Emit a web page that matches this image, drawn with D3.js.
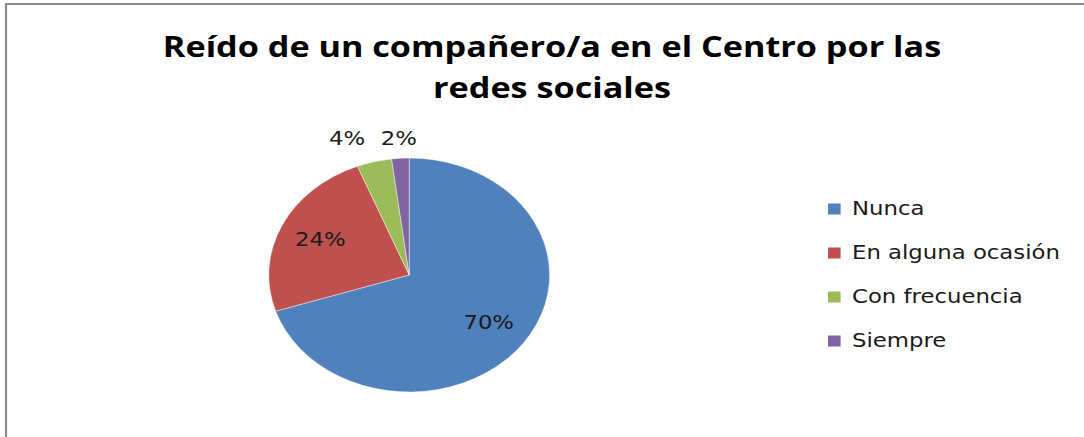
<!DOCTYPE html>
<html>
<head>
<meta charset="utf-8">
<script src="https://cdn.jsdelivr.net/npm/d3@7"></script>
<style>
  body { margin: 0; background: #fff; }
  svg { display: block; }
</style>
</head>
<body>
<div id="ChartDiv"></div>
<script>
// chart data
const title_lines = ["Reído de un compañero/a en el Centro por las", "redes sociales"];
const categories = ["Nunca", "En alguna ocasión", "Con frecuencia", "Siempre"];
const values = [70, 24, 4, 2];
const colors = ["#4F81BD", "#C0504D", "#9BBB59", "#8064A2"];

const W = 1084, H = 437;
// the original picture is stretched sideways, so everything is drawn in a narrower box and scaled
const sx = 1.2;

function createChart() {
    const svg = d3.select("#ChartDiv").append("svg")
        .attr("width", W)
        .attr("height", H);

    // frame (only top and left edges show)
    svg.append("path")
        .attr("d", `M6,${H} L6,4 L${W},4`)
        .attr("fill", "none")
        .attr("stroke", "#8c8c8c")
        .attr("stroke-width", 2.2);

    const g = svg.append("g").attr("transform", `scale(${sx},1)`);

    // title
    g.append("g").selectAll("text")
        .data(title_lines)
        .join("text")
        .attr("x", 460)
        .attr("y", (d, i) => 57 + i * 41)
        .attr("text-anchor", "middle")
        .attr("font-family", "'Open Sans', sans-serif")
        .attr("font-weight", "bold")
        .attr("font-size", 28.5)
        .attr("fill", "#000")
        .text(d => d);

    const cx = 341, cy = 275, R = 117;
    const pie = d3.pie().sort(null).value(d => d)(values);
    const arc = d3.arc().innerRadius(0).outerRadius(R);

    const pg = g.append("g").attr("transform", `translate(${cx},${cy})`);
    pg.selectAll("path")
        .data(pie)
        .join("path")
        .attr("d", arc)
        .attr("fill", (d, i) => colors[i])
        .attr("stroke", "#fff")
        .attr("stroke-opacity", 0.5)
        .attr("stroke-width", 0.8);

    // labels: inside for big slices, above for small ones
    const inArc = d3.arc().innerRadius(R * 0.7).outerRadius(R * 0.7);
    const outArc = d3.arc().innerRadius(R + 20).outerRadius(R + 20);
    const fmt = d => d + "%";

    const labels = pg.selectAll("text.lbl")
        .data(pie)
        .join("text")
        .attr("class", "lbl")
        .attr("text-anchor", "middle")
        .attr("dominant-baseline", "central")
        .attr("font-family", "'DejaVu Sans', Verdana, sans-serif")
        .attr("font-size", 19)
        .attr("fill", "#1a1a1a")
        .text(d => fmt(d.data));

    const outside = [];
    labels.each(function(d) {
        const big = d.data >= 10;
        const p = big ? inArc.centroid(d) : outArc.centroid(d);
        d.lx = p[0]; d.ly = p[1];
        d.w = this.getComputedTextLength();
        if (!big) outside.push(d);
    });

    // push small labels apart so they do not overlap
    outside.sort((a, b) => b.lx - a.lx);
    const rowY = d3.min(outside, d => d.ly);
    for (let i = 1; i < outside.length; i++) {
        const prev = outside[i - 1], cur = outside[i];
        const maxX = prev.lx - (prev.w + cur.w) / 2 - 13;
        if (cur.lx > maxX) cur.lx = maxX;
    }
    outside.forEach(d => d.ly = rowY);

    labels.attr("x", d => d.lx).attr("y", d => d.ly);

    // legend
    const lg = g.append("g").attr("transform", "translate(690,209)");
    const items = lg.selectAll("g")
        .data(categories)
        .join("g")
        .attr("transform", (d, i) => `translate(0,${i * 44})`);
    items.append("rect")
        .attr("x", 0)
        .attr("y", -5.5)
        .attr("width", 10.5)
        .attr("height", 11)
        .attr("fill", (d, i) => colors[i]);
    items.append("text")
        .attr("x", 20)
        .attr("y", 0)
        .attr("dominant-baseline", "central")
        .attr("font-family", "'DejaVu Sans', Verdana, sans-serif")
        .attr("font-size", 19)
        .attr("fill", "#1a1a1a")
        .text(d => d);
}

createChart();
</script>
</body>
</html>
